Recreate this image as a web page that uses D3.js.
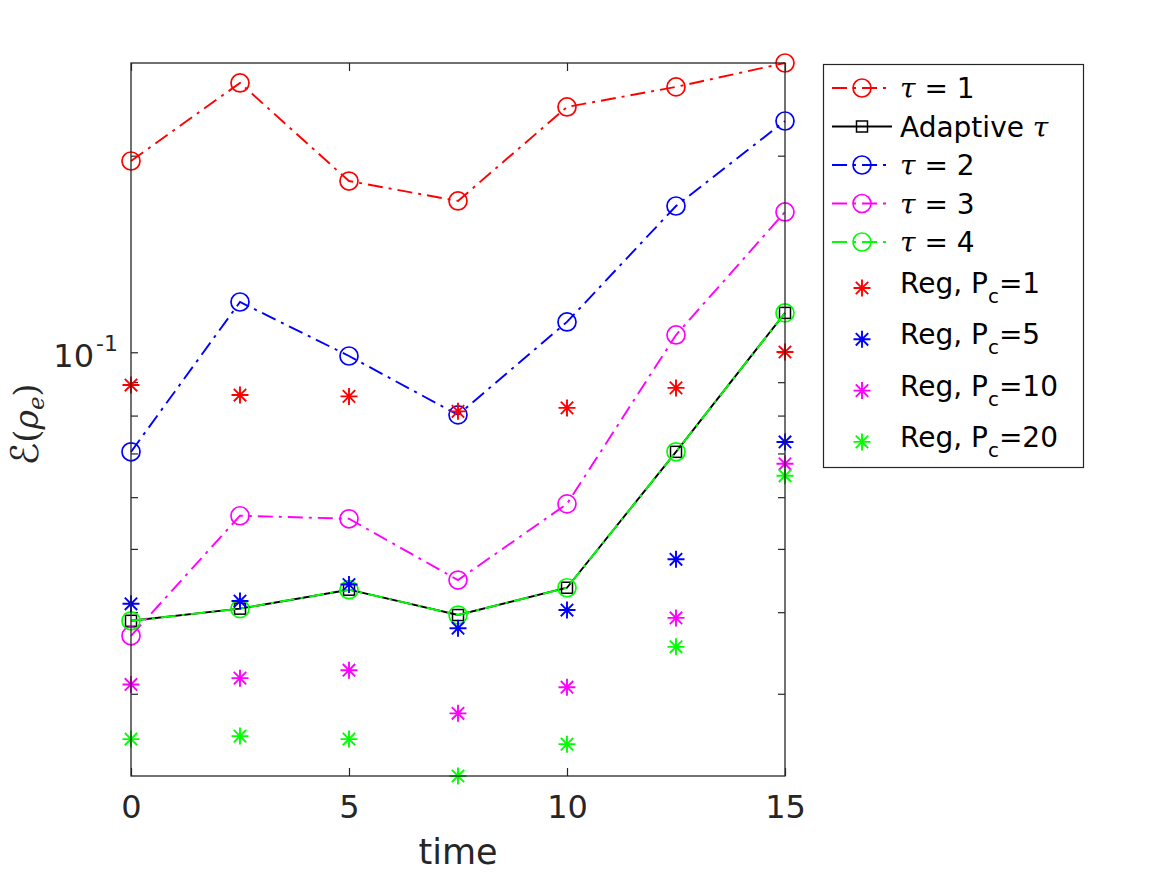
<!DOCTYPE html>
<html lang="en">
<head>
<meta charset="UTF-8">
<title>Error vs time</title>
<script src="https://d3js.org/d3.v7.min.js"></script>
<style>
  body { margin: 0; background: #fff; }
  svg { font-family: "DejaVu Sans", sans-serif; }
</style>
</head>
<body>
<svg id="chart" width="1167" height="875"></svg>
<script>
// time samples
const times = [0, 2.5, 5, 7.5, 10, 12.5, 15];

// line series
const tau1     = [0.1963, 0.2585, 0.1829, 0.1705, 0.2375, 0.2549, 0.2773];
const adaptive = [0.0388, 0.0405, 0.0433, 0.0396, 0.0436, 0.0704, 0.1149];
const tau2     = [0.0704, 0.1194, 0.0987, 0.0802, 0.1113, 0.1675, 0.2260];
const tau3     = [0.0368, 0.0562, 0.0556, 0.0448, 0.0586, 0.1063, 0.1640];
const tau4     = [0.0388, 0.0405, 0.0433, 0.0396, 0.0436, 0.0704, 0.1149];

// regularised runs (markers only)
const pcValues = [1, 5, 10, 20];
const reg1  = [0.0891, 0.0860, 0.0856, 0.0812, 0.0822, 0.0882, 0.1001];
const reg5  = [0.0412, 0.0416, 0.0441, 0.0378, 0.0403, 0.0482, 0.0729];
const reg10 = [0.0310, 0.0317, 0.0326, 0.0280, 0.0307, 0.0392, 0.0675];
const reg20 = [0.02557, 0.02584, 0.02557, 0.02245, 0.02512, 0.0354, 0.0647];

const xTicks = [0, 5, 10, 15];

const lineSeries = [
  { label: "τ = 1",      values: tau1,     color: "#ff0000", marker: "circle", dash: true },
  { label: "Adaptive τ", values: adaptive, color: "#000000", marker: "square", dash: false },
  { label: "τ = 2",      values: tau2,     color: "#0000ff", marker: "circle", dash: true },
  { label: "τ = 3",      values: tau3,     color: "#ff00ff", marker: "circle", dash: true },
  { label: "τ = 4",      values: tau4,     color: "#00ff00", marker: "circle", dash: true }
];
const regSeries = [reg1, reg5, reg10, reg20].map((v, i) => ({
  pc: pcValues[i], values: v, color: ["#ff0000", "#0000ff", "#ff00ff", "#00ff00"][i]
}));

const svg = d3.select("#chart");
const axisColor = "#262626";
const dashPattern = "15,6,3,6";

// axes box
const box = { left: 131, right: 785, top: 63, bottom: 776 };

const allValues = lineSeries.flatMap(s => s.values).concat(regSeries.flatMap(s => s.values));

const x = d3.scaleLinear().domain([0, 15]).range([box.left, box.right]);
const y = d3.scaleLog().domain(d3.extent(allValues)).range([box.bottom, box.top]);

// ticks (inside, mirrored on all four sides)
function cleanAxis(g) {
  g.select(".domain").remove();
  g.selectAll(".tick line").attr("stroke", axisColor).attr("stroke-width", 1.2);
}
svg.append("g").attr("transform", `translate(${box.left},0)`)
  .call(d3.axisLeft(y).tickValues(y.ticks()).tickSize(-7).tickFormat(""))
  .call(cleanAxis);
svg.append("g").attr("transform", `translate(${box.right},0)`)
  .call(d3.axisRight(y).tickValues(y.ticks()).tickSize(-7).tickFormat(""))
  .call(cleanAxis);
svg.append("g").attr("transform", `translate(0,${box.top})`)
  .call(d3.axisTop(x).tickValues(xTicks).tickSize(-8).tickFormat(""))
  .call(cleanAxis);
const xAxis = svg.append("g").attr("transform", `translate(0,${box.bottom})`)
  .call(d3.axisBottom(x).tickValues(xTicks).tickSize(-8).tickPadding(19).tickFormat(d3.format("d")))
  .call(cleanAxis);
xAxis.selectAll(".tick text")
  .attr("fill", axisColor)
  .style("font-size", "32px")
  .style("font-family", "DejaVu Sans");

// y tick label 10^-1
const yLab = svg.append("text")
  .attr("x", 118)
  .attr("y", y(0.1) + 15)
  .attr("text-anchor", "end")
  .attr("fill", axisColor)
  .style("font-size", "32px");
yLab.append("tspan").text("10");
yLab.append("tspan").attr("dy", -16).attr("dx", 2).style("font-size", "22px").text("-1");

// axis labels
svg.append("text")
  .attr("x", (box.left + box.right) / 2)
  .attr("y", 864)
  .attr("text-anchor", "middle")
  .attr("fill", axisColor)
  .style("font-size", "35px")
  .text("time");

const yTitle = svg.append("text")
  .attr("transform", `translate(38,${(box.top + box.bottom) / 2 + 5}) rotate(-90)`)
  .attr("text-anchor", "middle")
  .attr("fill", axisColor)
  .style("font-family", "DejaVu Serif, serif")
  .style("font-size", "33px");
yTitle.append("tspan").style("font-size", "38px").style("font-family", "DejaVu Sans").text("ℰ");
yTitle.append("tspan").text("(");
yTitle.append("tspan").style("font-style", "italic").text("ρ");
yTitle.append("tspan").style("font-style", "italic").style("font-size", "23px").attr("dy", 6).text("e");
yTitle.append("tspan").attr("dy", -6).text(")");

// markers
function drawMarker(g, type, cx, cy, color) {
  if (type === "circle") {
    g.append("circle").attr("cx", cx).attr("cy", cy).attr("r", 9)
      .attr("fill", "none").attr("stroke", color).attr("stroke-width", 1.7);
  } else if (type === "square") {
    g.append("rect").attr("x", cx - 5.5).attr("y", cy - 5.5).attr("width", 11).attr("height", 11)
      .attr("fill", "none").attr("stroke", color).attr("stroke-width", 1.5);
  } else if (type === "star") {
    const r = 8.5, d = 6.2;
    g.append("path")
      .attr("d", `M${cx - r},${cy}H${cx + r}M${cx},${cy - r}V${cy + r}` +
                 `M${cx - d},${cy - d}L${cx + d},${cy + d}M${cx - d},${cy + d}L${cx + d},${cy - d}`)
      .attr("stroke", color).attr("stroke-width", 1.9).attr("fill", "none");
  }
}

const plot = svg.append("g");
const line = d3.line().x((d, i) => x(times[i])).y(d => y(d));

lineSeries.forEach(s => {
  const g = plot.append("g");
  g.append("path")
    .datum(s.values)
    .attr("d", line)
    .attr("fill", "none")
    .attr("stroke", s.color)
    .attr("stroke-width", 1.9)
    .attr("stroke-dasharray", s.dash ? dashPattern : null);
  s.values.forEach((v, i) => drawMarker(g, s.marker, x(times[i]), y(v), s.color));
});

regSeries.forEach(s => {
  const g = plot.append("g");
  s.values.forEach((v, i) => drawMarker(g, "star", x(times[i]), y(v), s.color));
});

// axes box on top
svg.append("rect")
  .attr("x", box.left).attr("y", box.top)
  .attr("width", box.right - box.left).attr("height", box.bottom - box.top)
  .attr("fill", "none").attr("stroke", axisColor).attr("stroke-width", 1.3);

// legend
const legend = svg.append("g");
legend.append("rect")
  .attr("x", 823.5).attr("y", 64.5).attr("width", 260).attr("height", 403)
  .attr("fill", "#fff").attr("stroke", axisColor).attr("stroke-width", 1.2);

const textX = 900, sampleL = 832, sampleR = 892, markX = 862;

function addLabel(rowY, parts) {
  const t = legend.append("text").attr("x", textX).attr("y", rowY).attr("dy", "0.36em")
    .attr("fill", "#000").style("font-size", "28px");
  parts.forEach(p => {
    const ts = t.append("tspan").text(p.text);
    if (p.italic) ts.style("font-style", "italic").style("font-family", "DejaVu Serif, serif");
    if (p.sub) ts.style("font-size", "20px").attr("dy", 10);
    if (p.unsub) ts.attr("dy", -10);
  });
}

lineSeries.forEach((s, i) => {
  const rowY = 88 + i * 38.5;
  legend.append("line")
    .attr("x1", sampleL).attr("x2", sampleR).attr("y1", rowY).attr("y2", rowY)
    .attr("stroke", s.color).attr("stroke-width", 1.9)
    .attr("stroke-dasharray", s.dash ? dashPattern : null);
  drawMarker(legend, s.marker, markX, rowY, s.color);
  const parts = s.label.split("τ");
  const spans = [];
  parts.forEach((p, k) => {
    if (k > 0) spans.push({ text: "τ", italic: true });
    if (p) spans.push({ text: p });
  });
  addLabel(rowY, spans);
});

regSeries.forEach((s, i) => {
  const rowY = 283 + i * 51.3;
  drawMarker(legend, "star", markX, rowY + 5, s.color);
  addLabel(rowY, [
    { text: "Reg, P" },
    { text: "c", sub: true },
    { text: "=" + s.pc, unsub: true }
  ]);
});
</script>
</body>
</html>
